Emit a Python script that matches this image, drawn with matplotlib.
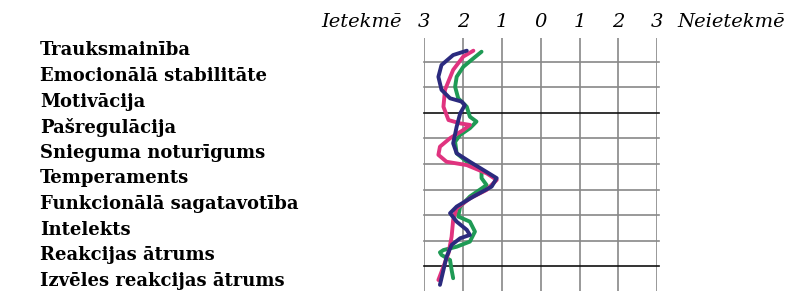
import numpy as np
import matplotlib
matplotlib.use('Agg')
import matplotlib.pyplot as plt

# factors (rows, top to bottom)
factors = ['Trauksmainība', 'Emocionālā stabilitāte', 'Motivācija', 'Pašregulācija',
           'Snieguma noturīgums', 'Temperaments', 'Funkcionālā sagatavotība',
           'Intelekts', 'Reakcijas ātrums', 'Izvēles reakcijas ātrums']
scale_labels = ['3', '2', '1', '0', '1', '2', '3']

# hand drawn curves
# x: position on the scale (0 = left "3", 6 = right "3"), y: row units from top
navy_x = [1.10, 0.75, 0.45, 0.37, 0.45, 0.67, 0.97, 1.05, 0.93, 0.84, 0.75, 0.84, 1.18,
          1.87, 1.74, 1.27, 0.84, 0.67, 0.84, 1.10, 1.18, 0.93, 0.71, 0.58, 0.50, 0.41]
navy_y = [0.57, 0.74, 1.13, 1.59, 2.10, 2.43, 2.56, 2.70, 3.02, 3.54, 4.19, 4.58, 4.91,
          5.55, 5.88, 6.27, 6.66, 6.92, 7.25, 7.57, 7.77, 7.90, 8.16, 8.62, 9.14, 9.72]
pink_x = [1.27, 1.01, 0.75, 0.54, 0.50, 0.63, 0.93, 1.18, 1.01, 0.67, 0.41, 0.37, 0.58,
          1.10, 1.61, 1.87, 1.61, 1.18, 0.84, 0.75, 0.71, 0.63, 0.50, 0.37]
pink_y = [0.57, 0.80, 1.32, 2.10, 2.76, 3.28, 3.41, 3.47, 3.67, 3.99, 4.32, 4.64, 4.91,
          5.04, 5.36, 5.62, 6.01, 6.34, 6.73, 7.18, 7.84, 8.48, 9.01, 9.53]
green_x = [1.48, 1.27, 1.01, 0.84, 0.80, 0.88, 1.10, 1.18, 1.35, 1.18, 0.93, 0.80, 0.84,
           1.10, 1.48, 1.48, 1.61, 1.18, 0.93, 0.88, 1.18, 1.31, 1.18, 0.84, 0.50, 0.41,
           0.45, 0.67, 0.71, 0.75]
green_y = [0.61, 0.87, 1.20, 1.59, 1.98, 2.43, 2.76, 3.15, 3.34, 3.60, 3.86, 4.13, 4.58,
           4.91, 5.23, 5.55, 5.82, 6.27, 6.66, 7.05, 7.25, 7.64, 8.03, 8.23, 8.36, 8.45,
           8.55, 8.75, 9.14, 9.46]

fig = plt.figure(figsize=(7.92, 2.91), dpi=100)
ax = fig.add_axes([424 / 792, 0, 233.3 / 792, 253 / 291])
ax.set_xlim(0, 6)
ax.set_ylim(9.96, 0.074)
ax.axis('off')

for i in range(7):
    ax.axvline(i, color='#888888', lw=1.2, zorder=1)
for k in range(1, 10):
    c = '#111111' if k in (3, 9) else '#888888'
    ax.plot([0, 6.05], [k, k], color=c, lw=1.2, zorder=1, clip_on=False)

kw = dict(lw=2.8, solid_joinstyle='round', solid_capstyle='round')
ax.plot(green_x, green_y, color='#1f9a55', zorder=3, **kw)
ax.plot(pink_x, pink_y, color='#e0337f', zorder=4, **kw)
ax.plot(navy_x, navy_y, color='#2b2a7e', zorder=5, **kw)

hdr = dict(family='DejaVu Serif', style='italic', fontsize=14, va='center')
for i, lab in enumerate(scale_labels):
    ax.text(i, -0.57, lab, ha='center', **hdr)
fig.text(321 / 792, 1 - 22 / 291, 'Ietekmē', ha='left', **hdr)
fig.text(677 / 792, 1 - 22 / 291, 'Neietekmē', ha='left', **hdr)

for i, name in enumerate(factors):
    ax.text(-384 / 38.9, i + 0.56, name, family='DejaVu Serif', weight='bold',
            fontsize=13, va='center', ha='left', clip_on=False)

fig.savefig('out.png', dpi=100)
